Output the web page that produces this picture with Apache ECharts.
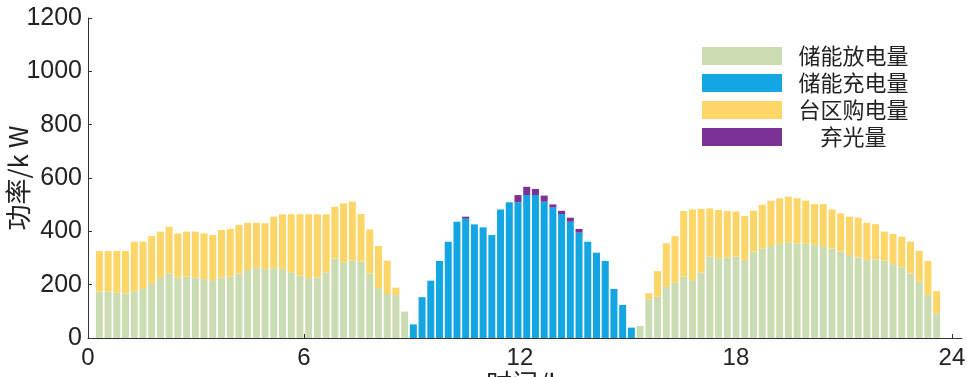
<!DOCTYPE html>
<html><head><meta charset="utf-8">
<script src="https://cdn.jsdelivr.net/npm/echarts@6/dist/echarts.min.js"></script>
<style>html,body{margin:0;padding:0;background:#fff}#c{width:967px;height:377px}</style>
</head><body><div id="c"></div>
<script>
// Legend / series names
const seriesNames = ['储能放电量', '储能充电量', '台区购电量', '弃光量'];
// X tick labels (hours) and y-axis range
const hourTicks = [0, 6, 12, 18, 24];
const yMin = 0, yMax = 1200, yStep = 200;
// 15-minute time stamps 0:00 ... 24:00 (97 points)
const times = [];
for (let i = 0; i <= 96; i++) times.push(String(i * 0.25));

// 储能放电量 (kW)
const discharge = [
  174,174,170,167,174,184,203,225,242,227,230,227,221,217,227,230,242,255,262,259,262,259,246,234,225,227,246,298,282,290,287,242,187,165,161,99,
  0,0,0,0,0,0,0,0,0,0,0,0,0,0,0,0,0,0,0,0,0,0,0,0,0,0,
  45,145,155,192,207,230,217,245,305,299,302,305,292,324,336,345,352,357,355,355,349,345,336,324,311,302,292,295,290,277,265,242,211,161,93
];
// 储能充电量 (kW)
const charge = [
  0,0,0,0,0,0,0,0,0,0,0,0,0,0,0,0,0,0,0,0,0,0,0,0,0,0,0,0,0,0,0,0,0,0,0,0,
  51,153,215,289,361,436,447,426,415,386,482,509,509,536,536,511,490,465,436,395,361,320,289,184,124,39,
  0,0,0,0,0,0,0,0,0,0,0,0,0,0,0,0,0,0,0,0,0,0,0,0,0,0,0,0,0,0,0,0,0,0,0
];
// 台区购电量 (kW)
const purchase = [
  152,152,156,159,187,177,179,174,175,165,169,172,171,169,178,179,182,177,170,171,193,205,218,230,239,237,218,194,223,221,178,165,158,125,28,0,
  0,0,0,0,0,0,0,0,0,0,0,0,0,0,0,0,0,0,0,0,0,0,0,0,0,0,
  0,23,96,163,175,246,265,239,181,181,174,169,165,153,163,170,172,173,169,160,153,157,146,143,144,149,140,132,109,113,115,119,116,128,83
];
// 弃光量 (kW)
const curtail = [
  0,0,0,0,0,0,0,0,0,0,0,0,0,0,0,0,0,0,0,0,0,0,0,0,0,0,0,0,0,0,0,0,0,0,0,0,
  0,0,0,0,0,0,8,0,0,0,0,0,27,31,23,23,11,12,15,14,0,0,0,0,0,0,
  0,0,0,0,0,0,0,0,0,0,0,0,0,0,0,0,0,0,0,0,0,0,0,0,0,0,0,0,0,0,0,0,0,0,0
];

const colors = ['#CCDCB2', '#14A6E2', '#FED567', '#7B3294'];
const textColor = '#222';
const latin = 'Liberation Sans, Arial, sans-serif';
const cjk = 'Noto Sans CJK SC, sans-serif';

const chart = echarts.init(document.getElementById('c'), null, { renderer: 'canvas' });
const dataSets = [discharge, charge, purchase, curtail];

chart.setOption({
  animation: false,
  backgroundColor: '#fff',
  grid: [
    { left: 88, top: 18, right: 5, bottom: 39, outerBoundsMode: 'none', containLabel: false },
    { left: 95, top: 18, width: 846, bottom: 39, outerBoundsMode: 'none', containLabel: false }
  ],
  legend: {
    orient: 'vertical', left: 702, top: 45, padding: 0,
    icon: 'rect', itemWidth: 80, itemHeight: 18, itemGap: 5,
    data: seriesNames,
    formatter: '{c|{name}}',
    textStyle: {
      color: textColor, fontFamily: cjk, fontSize: 22,
      rich: { c: { width: 133, align: 'center', fontSize: 22, lineHeight: 22, fontFamily: cjk, color: textColor } }
    }
  },
  xAxis: [
    {
      gridIndex: 0, type: 'value', min: 0, max: 24.28, position: 'bottom',
      name: '时间/h', nameLocation: 'middle', nameGap: 32, nameMoveOverlap: false,
      nameTextStyle: { fontFamily: cjk, fontSize: 26, color: textColor },
      axisLine: { show: true, onZero: false, lineStyle: { color: '#333', width: 1 } },
      axisTick: { show: true, inside: true, length: 4, customValues: hourTicks, lineStyle: { color: '#333' } },
      axisLabel: { show: true, customValues: hourTicks, fontFamily: latin, fontSize: 24, color: textColor, margin: 8 },
      splitLine: { show: false }
    },
    {
      gridIndex: 1, type: 'category', data: times, boundaryGap: true,
      axisLine: { show: false }, axisTick: { show: false }, axisLabel: { show: false }, splitLine: { show: false }
    }
  ],
  yAxis: [
    {
      gridIndex: 0, type: 'value', min: yMin, max: yMax, interval: yStep,
      name: '功率/k W', nameLocation: 'middle', nameGap: 57, nameRotate: 90, nameMoveOverlap: false,
      nameTextStyle: { fontFamily: cjk, fontSize: 26, color: textColor },
      axisLine: { show: true, onZero: false, lineStyle: { color: '#333', width: 1 } },
      axisTick: { show: true, inside: true, length: 4, lineStyle: { color: '#333' } },
      axisLabel: { fontFamily: latin, fontSize: 25, color: textColor, margin: 6, formatter: v => String(v) },
      splitLine: { show: false }
    },
    {
      gridIndex: 1, type: 'value', min: yMin, max: yMax, interval: yStep, show: false,
      splitLine: { show: false }
    }
  ],
  series: seriesNames.map((name, k) => ({
    name, type: 'bar', stack: 'total', xAxisIndex: 1, yAxisIndex: 1, barWidth: 7,
    itemStyle: { color: colors[k] },
    data: dataSets[k]
  }))
});
</script>
</body></html>
